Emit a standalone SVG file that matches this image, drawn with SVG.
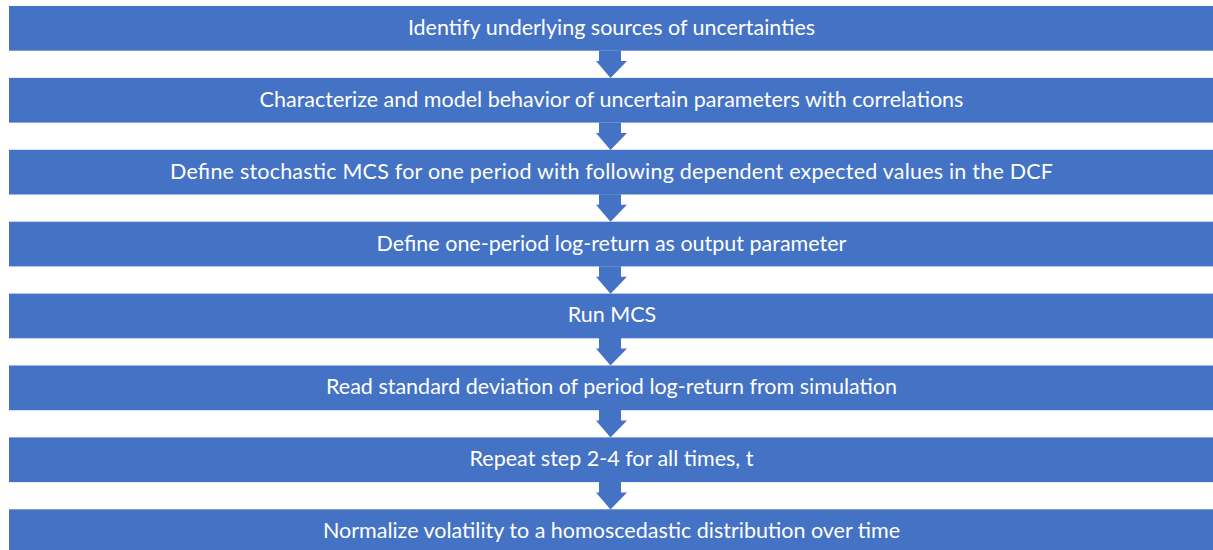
<svg xmlns="http://www.w3.org/2000/svg" width="1213" height="550" viewBox="0 0 1213 550">
<style>
.box{fill:#4472C4;}
.lbl{fill:#ffffff;font-family:Lato,"Liberation Sans",Arial,sans-serif;font-size:21.5px;text-anchor:middle;}
.arr{fill:#4472C4;}
</style>
<defs>
<path id="dn" d="M-12.5,0 H9.5 V10.5 H15.5 L-1,27.5 L-15.5,10.5 H-12.5 Z"/>
</defs>
<rect width="1213" height="550" fill="#ffffff"/>
<g id="connectors">
<use href="#dn" class="arr" x="611.5" y="50.5"/>
<use href="#dn" class="arr" x="611.5" y="122.4"/>
<use href="#dn" class="arr" x="611.5" y="194.3"/>
<use href="#dn" class="arr" x="611.5" y="266.2"/>
<use href="#dn" class="arr" x="611.5" y="338.1"/>
<use href="#dn" class="arr" x="611.5" y="410"/>
<use href="#dn" class="arr" x="611.5" y="481.9"/>
</g>
<g id="n1"><rect class="box" x="9" y="6" width="1204" height="44.7"/><text class="lbl" x="611.5" y="35">Identify underlying sources of uncertainties</text></g>
<g id="n2"><rect class="box" x="9" y="77.9" width="1204" height="44.7"/><text class="lbl" x="611.5" y="106.9">Characterize and model behavior of uncertain parameters with correlations</text></g>
<g id="n3"><rect class="box" x="9" y="149.8" width="1204" height="44.7"/><text class="lbl" x="611.5" y="178.6" textLength="883">Define stochastic MCS for one period with following dependent expected values in the DCF</text></g>
<g id="n4"><rect class="box" x="9" y="221.7" width="1204" height="44.7"/><text class="lbl" x="611.5" y="250.5">Define one-period log-return as output parameter</text></g>
<g id="n5"><rect class="box" x="9" y="293.6" width="1204" height="44.7"/><text class="lbl" x="612" y="322.4">Run MCS</text></g>
<g id="n6"><rect class="box" x="9" y="365.5" width="1204" height="44.7"/><text class="lbl" x="611.5" y="394.3">Read standard deviation of period log-return from simulation</text></g>
<g id="n7"><rect class="box" x="9" y="437.4" width="1204" height="44.7"/><text class="lbl" x="611.5" y="466.2">Repeat step 2-4 for all times, t</text></g>
<g id="n8"><rect class="box" x="9" y="509.3" width="1204" height="44.7"/><text class="lbl" x="611.5" y="538.1">Normalize volatility to a homoscedastic distribution over time</text></g>
</svg>
